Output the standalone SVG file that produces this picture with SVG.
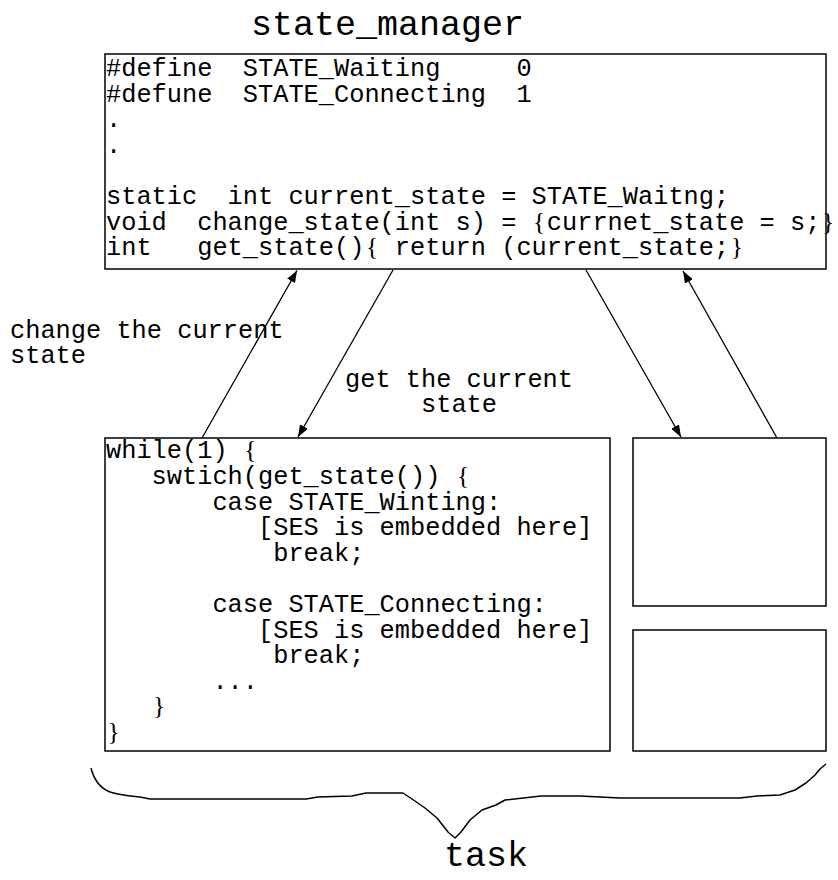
<svg xmlns="http://www.w3.org/2000/svg" width="838" height="880" viewBox="0 0 838 880">
  <style>
    .box { fill: #ffffff; stroke: #000000; stroke-width: 1.5; }
    .code { font-family: "Liberation Mono", "Courier New", monospace; font-size: 25.33px; fill: #000000; white-space: pre; }
    .brace { font-family: "Liberation Serif", "Times New Roman", serif; font-size: 25.33px; }
    .title { font-family: "Liberation Mono", "Courier New", monospace; font-size: 35px; fill: #000000; }
    .conn { fill: none; stroke: #000000; stroke-width: 1.3; marker-end: url(#arrow); }
    .curl { fill: none; stroke: #000000; stroke-width: 1.5; stroke-linejoin: round; }
  </style>
  <defs>
    <marker id="arrow" markerUnits="userSpaceOnUse" markerWidth="13" markerHeight="9" refX="12" refY="4.5" orient="auto">
      <path d="M0,0 L12,4.5 L0,9 z" fill="#000000"/>
    </marker>
  </defs>

  <rect width="838" height="880" fill="#ffffff"/>

  <!-- shared state module -->
  <g id="state_manager">
    <text class="title" x="251" y="35">state_manager</text>
    <rect class="box" x="105" y="54" width="721" height="215"/>
    <g class="code">
      <text xml:space="preserve" x="106" y="76">#define  STATE_Waiting     0</text>
      <text xml:space="preserve" x="106" y="101.6">#defune  STATE_Connecting  1</text>
      <text xml:space="preserve" x="106" y="127.2">.</text>
      <text xml:space="preserve" x="106" y="152.8">.</text>
      <text xml:space="preserve" x="106" y="204">static  int current_state = STATE_Waitng;</text>
      <text xml:space="preserve" x="106" y="229.6">void  change_state(int s) = <tspan class="brace" x="533">{</tspan><tspan x="546.8">currnet_state = s;</tspan><tspan class="brace" x="822">}</tspan></text>
      <text xml:space="preserve" x="106" y="255.2">int   get_state()<tspan class="brace" x="366">{</tspan><tspan x="379.6"> return (current_state;</tspan><tspan class="brace" x="730.7">}</tspan></text>
    </g>
  </g>

  <!-- main task loop -->
  <g id="task_main">
    <rect class="box" x="105" y="438" width="505" height="313"/>
    <g class="code">
      <text xml:space="preserve" x="106" y="458.3">while(1) <tspan class="brace" x="244.3">{</tspan></text>
      <text xml:space="preserve" x="106" y="483.9">   swtich(get_state()) <tspan class="brace" x="457.1">{</tspan></text>
      <text xml:space="preserve" x="106" y="509.5">       case STATE_Winting:</text>
      <text xml:space="preserve" x="106" y="535.1">          [SES is embedded here]</text>
      <text xml:space="preserve" x="106" y="560.7">           break;</text>
      <text xml:space="preserve" x="106" y="611.9">       case STATE_Connecting:</text>
      <text xml:space="preserve" x="106" y="637.5">          [SES is embedded here]</text>
      <text xml:space="preserve" x="106" y="663.1">           break;</text>
      <text xml:space="preserve" x="106" y="688.7">       ...</text>
      <text x="153.1" y="714.3"><tspan class="brace">}</tspan></text>
      <text x="107.5" y="739.9"><tspan class="brace">}</tspan></text>
    </g>
  </g>

  <!-- further tasks -->
  <g id="task_b">
    <rect class="box" x="633" y="438" width="193" height="168"/>
  </g>
  <g id="task_c">
    <rect class="box" x="633" y="630" width="193" height="121"/>
  </g>

  <!-- calls between the tasks and the state module -->
  <g id="connectors">
    <path class="conn" d="M202,438 L297,270.5"/>
    <path class="conn" d="M393,270 L298,437"/>
    <path class="conn" d="M586,270 L681,437"/>
    <path class="conn" d="M777,438 L683,271"/>
  </g>

  <g id="labels" class="code">
    <text x="10" y="338">change the current</text>
    <text x="10" y="363">state</text>
    <text x="345" y="387">get the current</text>
    <text x="459" y="412" text-anchor="middle">state</text>
  </g>

  <!-- hand-drawn brace grouping the tasks -->
  <g id="task_group">
    <path class="curl" d="M91,768 C94,780 100,788 110,792 C118,795 130,796 140,797 L150,799 L306,799 L318,797 L352,796 L366,793 L403,793 L412,799 L425,808 L437,818 L448,832 L455,838 L461,832 L470,820 L482,810 L496,805 L505,800 L541,796 L580,796 L620,798 L740,798 L757,796 L780,795 L795,790 L806,783 L815,775 L820,769 L826,764"/>
    <text class="title" x="444" y="866">task</text>
  </g>
</svg>
